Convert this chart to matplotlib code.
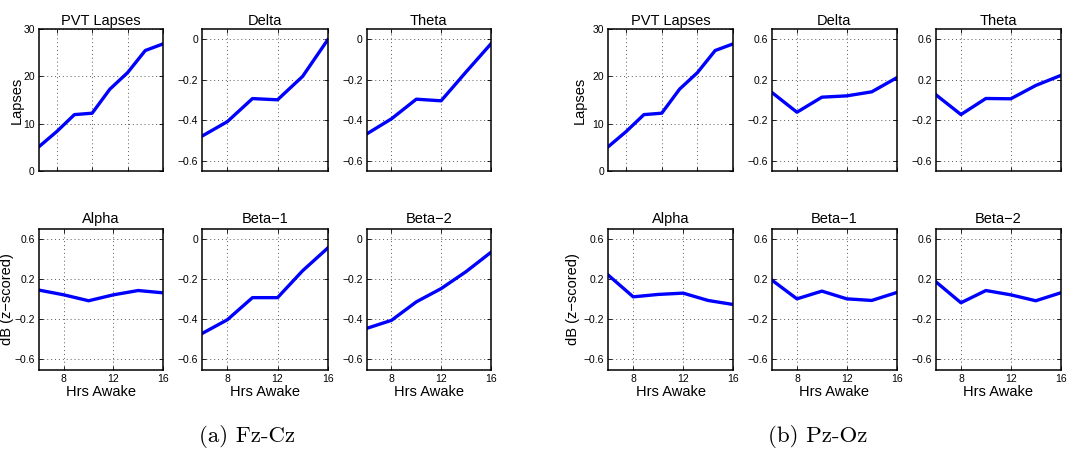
import matplotlib
matplotlib.use("Agg")
import matplotlib.pyplot as plt
from matplotlib.ticker import FuncFormatter

# ---------------- data ----------------
hours = [6, 8, 10, 12, 14, 16]
pvt_session = [1, 2, 3, 4, 5, 6, 7, 8]
pvt_lapses = [5.1, 8.3, 11.9, 12.2, 17.3, 20.8, 25.5, 26.9]

fzcz_delta = [-0.478, -0.407, -0.293, -0.299, -0.183, -0.002]
fzcz_theta = [-0.468, -0.393, -0.296, -0.304, -0.162, -0.023]
fzcz_alpha = [0.091, 0.044, -0.015, 0.044, 0.087, 0.064]
fzcz_beta1 = [-0.470, -0.402, -0.292, -0.292, -0.158, -0.045]
fzcz_beta2 = [-0.445, -0.405, -0.313, -0.247, -0.163, -0.067]

pzoz_delta = [0.074, -0.121, 0.028, 0.041, 0.081, 0.220]
pzoz_theta = [0.051, -0.144, 0.015, 0.012, 0.144, 0.243]
pzoz_alpha = [0.240, 0.024, 0.048, 0.061, -0.012, -0.052]
pzoz_beta1 = [0.190, 0.004, 0.081, 0.004, -0.012, 0.067]
pzoz_beta2 = [0.173, -0.035, 0.087, 0.044, -0.015, 0.064]

titles_top = ["PVT Lapses", "Delta", "Theta"]
titles_bot = ["Alpha", "Beta\u22121", "Beta\u22122"]
captions = ["(a) Fz-Cz", "(b) Pz-Oz"]
hour_ticks = [8, 12, 16]
pvt_ticks = [2, 4, 6, 8]
lapse_ticks = [0, 10, 20, 30]
neg_ticks = [-0.6, -0.4, -0.2, 0]
sym_ticks = [-0.6, -0.2, 0.2, 0.6]

# ---------------- style ----------------
plt.rcParams['font.family'] = ['Liberation Sans', 'DejaVu Sans']
W, H = 1084, 450
fig = plt.figure(figsize=(W / 100, H / 100), dpi=100)
BLUE = (0, 0, 1)


def fmt(v, pos):
    if abs(v) < 1e-9:
        return "0"
    s = f"{v:g}"
    return s.replace("-", "\u2212")


def make_ax(x0, x1, y0, y1):
    ax = fig.add_axes([x0 / W, 1 - y1 / H, (x1 - x0) / W, (y1 - y0) / H])
    for sp in ax.spines.values():
        sp.set_linewidth(1.1)
        sp.set_color('black')
    ax.tick_params(direction='in', length=3, width=0.6, labelsize=7.5,
                   top=True, right=True, pad=3, colors='black')
    ax.grid(True, linestyle=(0, (1, 3)), color='0.35', linewidth=0.7)
    ax.yaxis.set_major_formatter(FuncFormatter(fmt))
    return ax


cols_left = [(39.0, 163.0), (202.3, 327.7), (366.7, 490.7)]
cols_right = [(608.3, 733.0), (772.0, 896.7), (936.0, 1060.7)]
row_top = (29.3, 170.7)
row_bot = (229.0, 369.5)

panels = [
    (cols_left, [fzcz_delta, fzcz_theta], [fzcz_alpha, fzcz_beta1, fzcz_beta2],
     True, -0.125, -0.2),
    (cols_right, [pzoz_delta, pzoz_theta], [pzoz_alpha, pzoz_beta1, pzoz_beta2],
     False, -0.17, -0.225),
]

for cols, top_series, bot_series, is_left, lx_top, lx_bot in panels:
    # top row
    for i, (x0, x1) in enumerate(cols):
        ax = make_ax(x0, x1, *row_top)
        ax.set_title(titles_top[i], fontsize=10.5, pad=3)
        if i == 0:
            ax.plot(pvt_session, pvt_lapses, color=BLUE, linewidth=2.4)
            ax.set_xlim(1, 8)
            ax.set_xticks(pvt_ticks)
            ax.set_ylim(0, 30)
            ax.set_yticks(lapse_ticks)
            ax.set_ylabel("Lapses", fontsize=10.5)
            ax.yaxis.set_label_coords(lx_top, 0.5)
        else:
            ax.plot(hours, top_series[i - 1], color=BLUE, linewidth=2.4)
            ax.set_xlim(6, 16)
            ax.set_xticks(hour_ticks)
            if is_left:
                ax.set_ylim(-0.65, 0.05)
                ax.set_yticks(neg_ticks)
            else:
                ax.set_ylim(-0.7, 0.7)
                ax.set_yticks(sym_ticks)
        ax.tick_params(labelbottom=False)
    # bottom row
    for i, (x0, x1) in enumerate(cols):
        ax = make_ax(x0, x1, *row_bot)
        ax.set_title(titles_bot[i], fontsize=10.5, pad=4)
        ax.plot(hours, bot_series[i], color=BLUE, linewidth=2.4)
        ax.set_xlim(6, 16)
        ax.set_xticks(hour_ticks)
        ax.set_xticklabels([str(t) for t in hour_ticks])
        if is_left and i > 0:
            ax.set_ylim(-0.65, 0.05)
            ax.set_yticks(neg_ticks)
        else:
            ax.set_ylim(-0.7, 0.7)
            ax.set_yticks(sym_ticks)
        ax.set_xlabel("Hrs Awake", fontsize=10.5, labelpad=1)
        if i == 0:
            ax.set_ylabel("dB (z\u2212scored)", fontsize=10.5)
            ax.yaxis.set_label_coords(lx_bot, 0.5)

fig.text(247 / W, 1 - 437 / H, captions[0], family='cmr10', fontsize=16.5,
         ha='center', va='center')
fig.text(818 / W, 1 - 437 / H, captions[1], family='cmr10', fontsize=16.5,
         ha='center', va='center')

fig.savefig("out.png", dpi=100)
